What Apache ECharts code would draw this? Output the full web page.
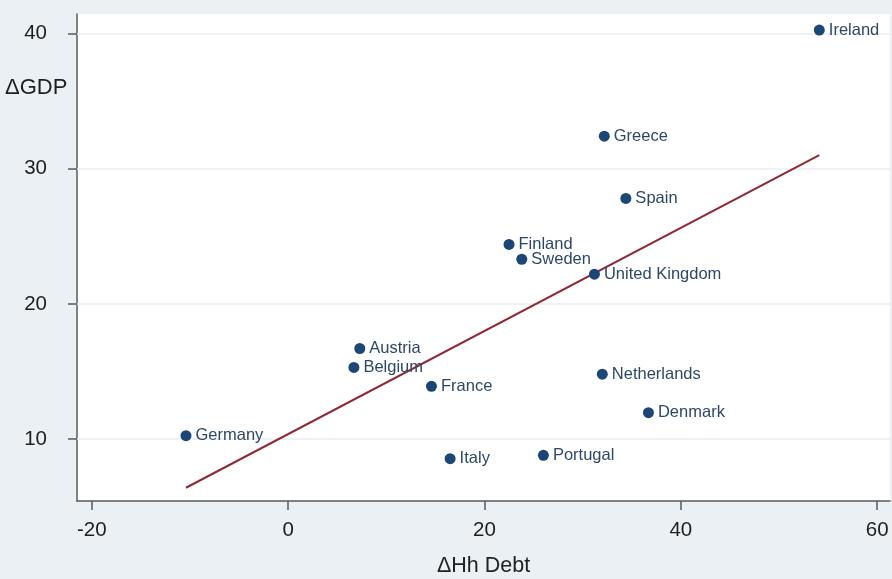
<!DOCTYPE html>
<html>
<head>
<meta charset="utf-8">
<script src="https://cdn.jsdelivr.net/npm/echarts@6/dist/echarts.min.js"></script>
<style>
  html, body { margin: 0; padding: 0; background: #eaf0f3; }
  #chart { width: 892px; height: 579px; }
</style>
</head>
<body>
<div id="chart"></div>
<script>
// Change in household debt vs change in GDP, by country
const countries = ['Ireland', 'Greece', 'Spain', 'Finland', 'Sweden', 'United Kingdom', 'Austria',
  'Belgium', 'France', 'Netherlands', 'Denmark', 'Germany', 'Italy', 'Portugal'];
const hhDebt = [54.1, 32.2, 34.4, 22.5, 23.8, 31.2, 7.3, 6.7, 14.6, 32.0, 36.7, -10.4, 16.5, 26.0];
const gdp = [40.25, 32.4, 27.8, 24.4, 23.3, 22.2, 16.7, 15.3, 13.9, 14.8, 11.95, 10.25, 8.55, 8.8];

// Fitted line endpoints
const fitX = [-10.4, 54.1];
const fitY = [6.4, 31.0];

const xTicks = [-20, 0, 20, 40, 60];
const yTicks = [10, 20, 30, 40];

const font = '"Liberation Sans", Arial, Helvetica, sans-serif';

const chart = echarts.init(document.getElementById('chart'), null, { renderer: 'canvas' });

chart.setOption({
  backgroundColor: '#eaf0f3',
  animation: false,
  grid: {
    left: 77, top: 14, right: 2, bottom: 78,
    outerBoundsMode: 'none',
    containLabel: false,
    show: true, backgroundColor: '#ffffff', borderWidth: 0
  },
  xAxis: {
    type: 'value',
    min: -21.5, max: 61.3,
    name: 'ΔHh Debt',
    nameLocation: 'middle',
    nameGap: 54,
    nameTextStyle: { fontFamily: font, fontSize: 21.5, color: '#222' },
    axisLine: { show: true, onZero: false, lineStyle: { color: '#5a5a5a', width: 1.5 } },
    axisTick: { show: true, length: 9, customValues: xTicks, lineStyle: { color: '#5a5a5a', width: 1.5 } },
    axisLabel: { customValues: xTicks, margin: 19, fontFamily: font, fontSize: 20.5, color: '#1e1e1e' },
    splitLine: { show: false }
  },
  yAxis: {
    type: 'value',
    min: 5.42, max: 41.44,
    axisLine: { show: true, onZero: false, lineStyle: { color: '#5a5a5a', width: 1.5 } },
    axisTick: { show: true, length: 9, customValues: yTicks, lineStyle: { color: '#5a5a5a', width: 1.5 } },
    axisLabel: { customValues: yTicks, margin: 30, fontFamily: font, fontSize: 20.5, color: '#1e1e1e' },
    splitLine: { show: false }
  },
  graphic: [{
    type: 'text',
    left: 5, top: 77,
    style: { text: 'ΔGDP', fontFamily: font, fontSize: 22, fill: '#1e1e1e' }
  }],
  series: [
    {
      // horizontal gridlines at the y ticks
      type: 'line',
      data: [],
      z: 1,
      markLine: {
        silent: true,
        symbol: 'none',
        z: 1,
        label: { show: false },
        lineStyle: { color: '#e9eef1', width: 1.5, type: 'solid' },
        data: yTicks.map(v => ({ yAxis: v }))
      }
    },
    {
      type: 'line',
      data: fitX.map((x, i) => [x, fitY[i]]),
      symbol: 'none',
      lineStyle: { color: '#8e2a35', width: 2 },
      z: 3
    },
    {
      type: 'scatter',
      data: hhDebt.map((x, i) => [x, gdp[i], countries[i]]),
      symbolSize: 11,
      itemStyle: { color: '#1b4676', opacity: 1 },
      label: {
        show: true,
        position: 'right',
        distance: 4,
        formatter: p => p.data[2],
        fontFamily: font,
        fontSize: 16.5,
        color: '#2d4866'
      },
      z: 4
    }
  ]
});
</script>
</body>
</html>
